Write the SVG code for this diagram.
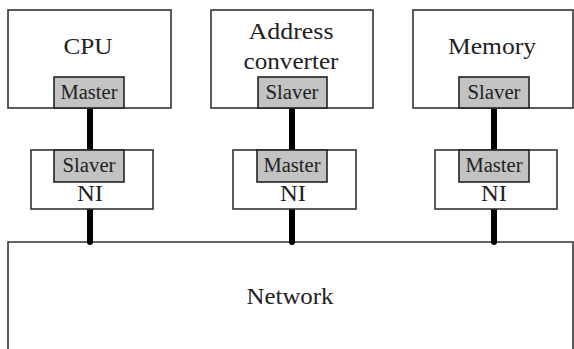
<svg xmlns="http://www.w3.org/2000/svg" width="574" height="349" viewBox="0 0 574 349">
<style>
.box{fill:#fff;stroke:#333;stroke-width:1.6}
.port{fill:#c3c3c3;stroke:#222;stroke-width:1.6}
.t{font-family:'Liberation Serif','Times New Roman',serif;fill:#222;text-anchor:middle}
.big{font-size:24px}
.sm{font-size:20.5px}
.ni{font-size:23px}
.link{stroke:#000;stroke-width:6;stroke-linecap:round}
</style>
<rect width="574" height="349" fill="#fff"/>
<g id="network">
<path class="box" d="M8,349 V242 H573 V349"/>
<text class="t big" x="290" y="304" textLength="87" lengthAdjust="spacingAndGlyphs">Network</text>
</g>
<g id="connectors">
<line class="link" x1="90" y1="108" x2="90" y2="150"/>
<line class="link" x1="292" y1="108" x2="292" y2="150"/>
<line class="link" x1="494" y1="108" x2="494" y2="150"/>
<line class="link" x1="90" y1="209" x2="90" y2="242"/>
<line class="link" x1="292" y1="209" x2="292" y2="242"/>
<line class="link" x1="494" y1="209" x2="494" y2="242"/>
</g>
<g id="cpu">
<rect class="box" x="8" y="10" width="163" height="98"/>
<text class="t big" x="88" y="54" textLength="49" lengthAdjust="spacingAndGlyphs">CPU</text>
<rect class="port" x="54" y="77" width="70" height="31"/>
<text class="t sm" x="89" y="99" textLength="57" lengthAdjust="spacingAndGlyphs">Master</text>
</g>
<g id="addr">
<rect class="box" x="211" y="10" width="162" height="98"/>
<text class="t big" x="291" y="39" textLength="85" lengthAdjust="spacingAndGlyphs">Address</text>
<text class="t big" x="291" y="69" textLength="95" lengthAdjust="spacingAndGlyphs">converter</text>
<rect class="port" x="258" y="77" width="69" height="31"/>
<text class="t sm" x="292" y="99" textLength="53" lengthAdjust="spacingAndGlyphs">Slaver</text>
</g>
<g id="memory">
<rect class="box" x="413" y="10" width="160" height="98"/>
<text class="t big" x="492" y="54" textLength="88" lengthAdjust="spacingAndGlyphs">Memory</text>
<rect class="port" x="459" y="77" width="70" height="31"/>
<text class="t sm" x="494" y="99" textLength="53" lengthAdjust="spacingAndGlyphs">Slaver</text>
</g>
<g id="ni1">
<rect class="box" x="31" y="150" width="122" height="59"/>
<rect class="port" x="54" y="150" width="70" height="32"/>
<text class="t sm" x="89" y="172" textLength="53" lengthAdjust="spacingAndGlyphs">Slaver</text>
<text class="t ni" x="90" y="201" textLength="26" lengthAdjust="spacingAndGlyphs">NI</text>
</g>
<g id="ni2">
<rect class="box" x="233" y="150" width="123" height="59"/>
<rect class="port" x="257" y="150" width="70" height="32"/>
<text class="t sm" x="292" y="172" textLength="57" lengthAdjust="spacingAndGlyphs">Master</text>
<text class="t ni" x="293" y="201" textLength="26" lengthAdjust="spacingAndGlyphs">NI</text>
</g>
<g id="ni3">
<rect class="box" x="435" y="150" width="122" height="59"/>
<rect class="port" x="459" y="150" width="70" height="32"/>
<text class="t sm" x="494" y="172" textLength="57" lengthAdjust="spacingAndGlyphs">Master</text>
<text class="t ni" x="494" y="201" textLength="26" lengthAdjust="spacingAndGlyphs">NI</text>
</g>
</svg>
